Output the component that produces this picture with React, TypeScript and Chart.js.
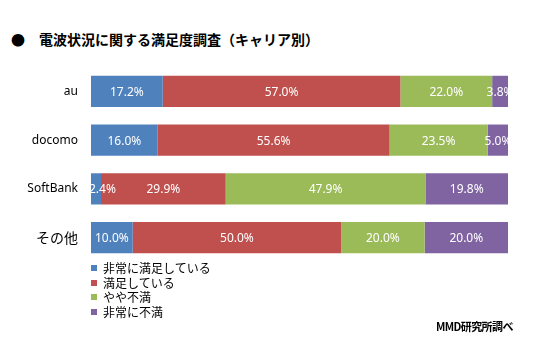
import React, { useEffect, useRef } from "react";
import { Chart, registerables } from "chart.js";

Chart.register(...registerables);

const categories = ["au", "docomo", "SoftBank", "その他"];
const seriesNames = ["非常に満足している", "満足している", "やや不満", "非常に不満"];
const verySatisfied = [17.2, 16.0, 2.4, 10.0];
const satisfied = [57.0, 55.6, 29.9, 50.0];
const somewhatDissatisfied = [22.0, 23.5, 47.9, 20.0];
const veryDissatisfied = [3.8, 5.0, 19.8, 20.0];
const colors = ["#4F81BD", "#C0504D", "#9BBB59", "#8064A2"];
const titleText = "電波状況に関する満足度調査（キャリア別）";
const sourceText = "MMD研究所調べ";

const labelPlugin = {
  id: "segLabels",
  afterDatasetsDraw(chart: any) {
    const { ctx, chartArea } = chart;
    ctx.save();
    ctx.beginPath();
    ctx.rect(chartArea.left, chartArea.top, chartArea.right - chartArea.left, chartArea.bottom - chartArea.top);
    ctx.clip();
    ctx.font = "12px 'Noto Sans', 'DejaVu Sans', sans-serif";
    ctx.fillStyle = "#ffffff";
    ctx.textAlign = "center";
    ctx.textBaseline = "middle";
    chart.data.datasets.forEach((ds: any, di: number) => {
      const meta = chart.getDatasetMeta(di);
      meta.data.forEach((el: any, i: number) => {
        const v = ds.data[i];
        const txt = v.toFixed(1) + "%";
        const w = ctx.measureText(txt).width;
        let cx = (el.x + el.base) / 2;
        cx = Math.max(cx, chartArea.left + w / 2 - 2);
        ctx.fillText(txt, cx, el.y + 1);
      });
    });
    ctx.restore();
  },
};

export default function App() {
  const ref = useRef<HTMLCanvasElement | null>(null);
  useEffect(() => {
    if (!ref.current) return;
    const data = [verySatisfied, satisfied, somewhatDissatisfied, veryDissatisfied];
    const chart = new Chart(ref.current, {
      type: "bar",
      data: {
        labels: categories,
        datasets: data.map((d, i) => ({
          label: seriesNames[i],
          data: d,
          backgroundColor: colors[i],
          borderWidth: 0,
          categoryPercentage: 0.64,
          barPercentage: 1.0,
        })),
      },
      options: {
        indexAxis: "y",
        animation: false,
        responsive: false,
        maintainAspectRatio: false,
        layout: { padding: { left: 0, right: 28, top: 67, bottom: 90 } },
        plugins: {
          legend: { display: false },
          tooltip: { enabled: false },
          title: { display: false },
        },
        scales: {
          x: { display: false, stacked: true, min: 0, max: 100 },
          y: {
            stacked: true,
            grid: { display: false, drawTicks: false },
            border: { display: false },
            ticks: {
              color: "#000000",
              padding: 13,
              font: (c: any) =>
                c.index === 3
                  ? { size: 14, family: "'Noto Sans CJK JP', sans-serif" }
                  : { size: 12, family: "'Noto Sans', 'DejaVu Sans', sans-serif" },
            },
            afterFit: (s: any) => {
              s.width = 91;
            },
          },
        },
      } as any,
      plugins: [labelPlugin],
    });
    return () => chart.destroy();
  }, []);

  return (
    <div style={{ position: "absolute", left: 0, top: 0, width: 536, height: 352, background: "#fff", fontFamily: "'Noto Sans CJK JP', sans-serif" }}>
      <div style={{ position: "absolute", left: 11, top: 29, fontSize: 14, fontWeight: "bold", color: "#000", whiteSpace: "nowrap", lineHeight: "20px" }}>
        <span style={{ marginRight: 14 }}>●</span>
        {titleText}
      </div>
      <canvas ref={ref} width={536} height={352} style={{ position: "absolute", left: 0, top: 0 }} />
      <div style={{ position: "absolute", left: 91, top: 261, fontSize: 12, color: "#000", lineHeight: "14.5px" }}>
        {seriesNames.map((n, i) => (
          <div key={n} style={{ display: "flex", alignItems: "center", whiteSpace: "nowrap" }}>
            <span style={{ display: "inline-block", width: 6, height: 6, background: colors[i], marginRight: 6 }} />
            {n}
          </div>
        ))}
      </div>
      <div style={{ position: "absolute", left: 436, top: 318, fontSize: 11, fontWeight: "bold", color: "#000", whiteSpace: "nowrap", lineHeight: "16px", letterSpacing: "-0.6px" }}>
        {sourceText}
      </div>
    </div>
  );
}
